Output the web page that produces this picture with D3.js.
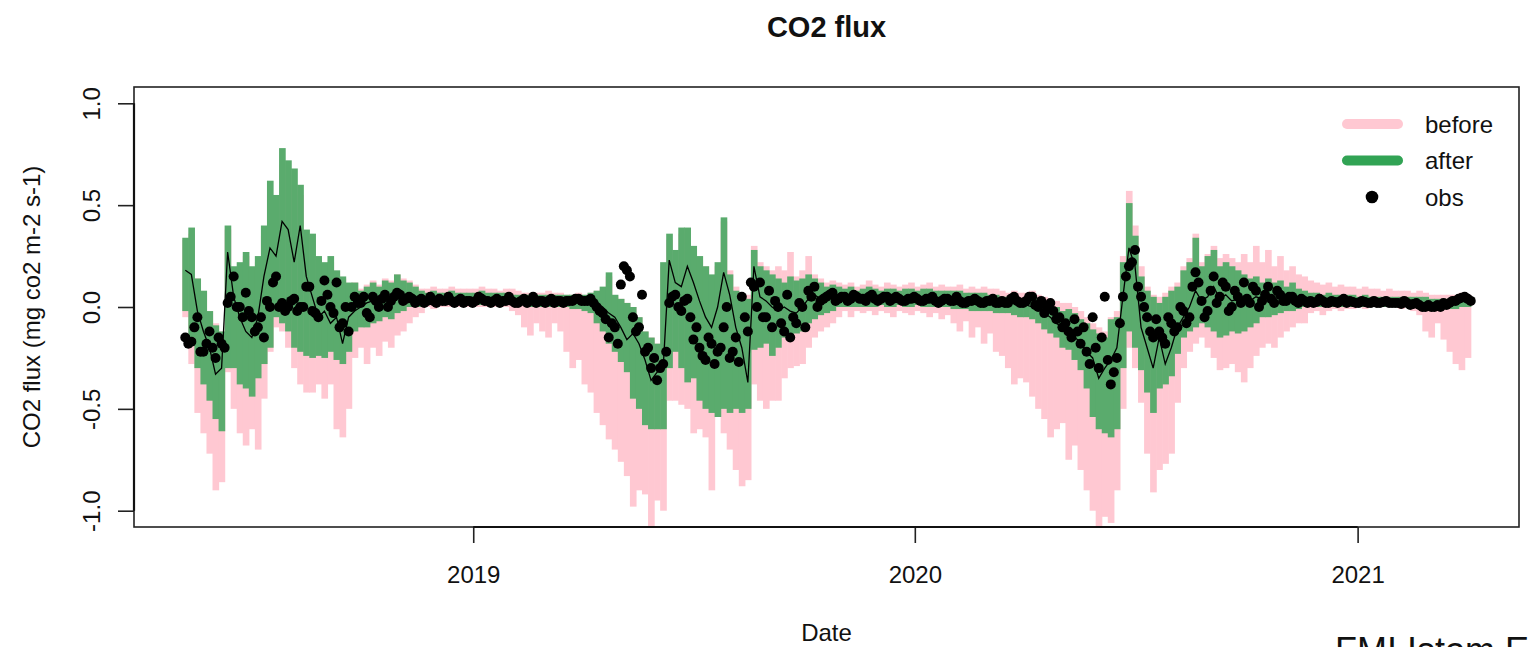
<html>
<head>
<style>
    body { margin: 0; background: #fff; }
    text { font-family: "Liberation Sans", Arial, sans-serif; fill: #111; }
</style>
</head>
<body>
<svg width="1529" height="647"></svg>
<script src="https://cdn.jsdelivr.net/npm/d3@7"></script>
<script>
    // one value every 5 days, starting 2018-05-08
    const startDate = new Date(Date.UTC(2018, 4, 8));
    const stepDays = 5;

    const beforeHi = [
        0.33,0.36,0.14,0.07,-0.02,-0.08,-0.12,0.38,0.18,0.2, 0.25,0.18,0.22,0.35,0.55,0.5,0.7,0.65,0.6,0.55, 0.35,0.33,0.22,0.2,0.22,0.16,0.14,0.11,0.12,0.09, 0.11,0.13,0.11,0.14,0.13,0.16,0.14,0.13,0.11,
        0.09,0.09,0.1,0.09,0.09,0.1,0.09,0.09,0.09,0.09,0.1,0.09,0.09,0.08,0.09,0.09,0.08,0.07,0.07,0.07,0.07,0.08,0.07,0.07,
        0.06,0.06,0.07,0.06,0.07,0.08,0.09,0.15,0.05,0.04,0.02,0.0,-0.05,-0.12,-0.15,-0.18,0.2,
        0.33,0.26,0.36,0.36,0.28,0.23,0.2,0.15,0.2,0.42,0.18,0.1,0.05,0.06,
        0.3,0.22,0.2,0.18,0.2,0.18,0.27,0.15,0.18,0.25,0.16,0.14,0.12,0.13,0.12,
        0.11,0.12,0.1,0.11,0.13,0.11,0.1,0.12,0.11,0.1,0.11,0.12,0.1,0.11,0.12,0.1,0.11,0.1,0.1,0.11,0.09,0.1,0.09,0.1,0.09,0.09,
        0.08,0.07,0.08,0.07,0.07,0.08,0.06,0.05,0.04,0.03,0.02,0.02,0.0,-0.02,-0.05,-0.08,-0.1,-0.12,-0.05,
        -0.02,0.25,0.57,0.4,0.2,0.1,0.06,0.05,0.07,0.1,0.12,0.2,0.24,0.36,0.22,0.26,0.3,0.24,0.26,0.24,0.22,0.26,0.22,0.3,0.22,0.28,0.2,0.25,0.18,0.2,0.16,0.15,
        0.13,0.12,0.11,0.12,0.1,0.11,0.1,0.1,0.09,0.1,0.09,0.09,0.08,0.09,0.08,0.08,0.08,0.07,0.08,
        0.07,0.06,0.06,0.06,0.06,0.06,0.07,0.06
    ];
    const beforeLo = [
        -0.05,-0.28,-0.52,-0.62,-0.72,-0.9,-0.86,-0.32,-0.5,-0.62, -0.68,-0.6,-0.7,-0.45,-0.22,-0.1,-0.12,-0.2,-0.3,-0.38, -0.42,-0.42,-0.38,-0.45,-0.38,-0.6,-0.64,-0.5,-0.25,-0.2, -0.28,-0.2,-0.24,-0.17,-0.2,-0.14,-0.12,-0.08,-0.05,
        -0.03,0.0,-0.01,0.0,0.0,0.0,0.0,0.0,0.0,0.0,0.0,0.0,0.0,0.0,0.0,-0.02,-0.04,-0.1,-0.14,-0.08,-0.12,-0.15,-0.08,-0.12,
        -0.22,-0.3,-0.26,-0.38,-0.42,-0.52,-0.58,-0.65,-0.7,-0.76,-0.83,-0.98,-0.9,-0.92,-1.08,-0.95,-1.0,
        -0.46,-0.46,-0.48,-0.5,-0.62,-0.6,-0.64,-0.9,-0.52,-0.62,-0.7,-0.8,-0.88,-0.85,
        -0.38,-0.46,-0.5,-0.46,-0.46,-0.35,-0.3,-0.29,-0.28,-0.2,-0.15,-0.12,-0.1,-0.08,-0.05,
        -0.02,-0.05,-0.02,-0.03,-0.02,-0.04,-0.02,-0.03,-0.05,-0.02,-0.03,-0.04,-0.02,-0.03,-0.05,-0.03,-0.06,-0.04,-0.08,-0.12,-0.07,-0.15,-0.1,-0.18,-0.13,-0.22,
        -0.24,-0.3,-0.38,-0.35,-0.37,-0.44,-0.5,-0.55,-0.64,-0.6,-0.57,-0.75,-0.68,-0.8,-0.9,-1.0,-1.08,-1.03,-1.06,
        -0.9,-0.5,-0.2,-0.3,-0.47,-0.72,-0.91,-0.8,-0.77,-0.72,-0.47,-0.3,-0.22,-0.18,-0.15,-0.2,-0.25,-0.31,-0.3,-0.28,-0.32,-0.37,-0.3,-0.24,-0.2,-0.18,-0.2,-0.15,-0.12,-0.1,-0.08,-0.08,
        -0.03,-0.02,-0.04,-0.02,-0.01,-0.02,-0.01,-0.01,0.0,-0.01,0.0,0.0,0.0,0.0,0.0,-0.01,0.0,-0.02,-0.04,
        -0.12,-0.15,-0.08,-0.16,-0.22,-0.28,-0.31,-0.25
    ];
    const afterHi = [
        0.34,0.39,0.14,0.08,-0.02,-0.09,-0.12,0.4,0.2,0.22, 0.27,0.2,0.25,0.4,0.62,0.55,0.78,0.72,0.68,0.6, 0.38,0.36,0.25,0.22,0.25,0.18,0.15,0.12,0.12,0.08, 0.1,0.12,0.1,0.13,0.12,0.16,0.13,0.12,0.1,
        0.08,0.07,0.08,0.07,0.07,0.08,0.07,0.07,0.07,0.07,0.08,0.07,0.07,0.07,0.07,0.06,0.06,0.06,0.06,0.06,0.06,0.06,0.06,0.06,
        0.06,0.06,0.06,0.06,0.07,0.08,0.1,0.17,0.06,0.04,0.02,0.0,-0.05,-0.12,-0.15,-0.18,0.22,
        0.36,0.28,0.39,0.39,0.3,0.25,0.2,0.16,0.22,0.44,0.16,0.08,0.04,0.04,
        0.28,0.2,0.18,0.16,0.14,0.12,0.15,0.13,0.14,0.16,0.14,0.12,0.1,0.11,0.1,
        0.09,0.1,0.08,0.09,0.1,0.09,0.08,0.09,0.09,0.08,0.09,0.09,0.08,0.09,0.09,0.08,0.08,0.08,0.08,0.08,0.07,0.07,0.07,0.07,0.06,0.06,
        0.05,0.05,0.05,0.04,0.04,0.05,0.04,0.02,0.0,0.0,-0.02,-0.01,-0.03,-0.06,-0.08,-0.11,-0.13,-0.15,-0.06,
        -0.05,0.22,0.51,0.35,0.15,0.08,0.05,0.02,0.05,0.08,0.1,0.18,0.22,0.34,0.2,0.25,0.28,0.2,0.22,0.2,0.18,0.16,0.14,0.15,0.12,0.14,0.12,0.13,0.1,0.12,0.09,0.08,
        0.07,0.07,0.06,0.07,0.06,0.06,0.06,0.06,0.05,0.06,0.05,0.05,0.05,0.05,0.05,0.05,0.05,0.05,0.05,
        0.05,0.04,0.04,0.04,0.04,0.05,0.05,0.05
    ];
    const afterLo = [
        -0.02,-0.15,-0.3,-0.38,-0.46,-0.55,-0.61,-0.3,-0.3,-0.38, -0.4,-0.44,-0.35,-0.28,-0.2,-0.05,-0.08,-0.12,-0.2,-0.22, -0.24,-0.25,-0.24,-0.25,-0.22,-0.26,-0.28,-0.22,-0.12,-0.1, -0.1,-0.08,-0.07,-0.05,-0.06,-0.03,-0.02,0.0,0.0,
        0.0,0.01,0.01,0.01,0.01,0.01,0.01,0.01,0.01,0.01,0.01,0.01,0.01,0.01,0.01,0.01,0.01,0.01,0.0,0.0,0.0,0.0,0.0,0.0,
        0.0,-0.01,-0.01,-0.02,-0.03,-0.08,-0.12,-0.18,-0.22,-0.27,-0.32,-0.45,-0.5,-0.58,-0.6,-0.6,-0.6,
        -0.3,-0.22,-0.3,-0.37,-0.35,-0.46,-0.5,-0.52,-0.54,-0.5,-0.52,-0.5,-0.52,-0.5,
        -0.21,-0.2,-0.18,-0.24,-0.2,-0.15,-0.14,-0.13,-0.12,-0.08,-0.06,-0.04,-0.03,-0.02,0.0,
        0.0,0.0,0.0,0.0,0.0,0.0,0.01,0.0,0.0,0.01,0.0,0.0,0.01,0.0,0.0,0.0,0.0,0.0,-0.01,-0.01,-0.01,-0.02,-0.02,-0.02,-0.02,-0.03,
        -0.03,-0.03,-0.04,-0.05,-0.05,-0.06,-0.08,-0.11,-0.13,-0.15,-0.2,-0.21,-0.26,-0.31,-0.4,-0.54,-0.6,-0.62,-0.64,
        -0.6,-0.3,-0.12,-0.2,-0.31,-0.42,-0.52,-0.4,-0.38,-0.34,-0.23,-0.15,-0.12,-0.1,-0.08,-0.1,-0.12,-0.15,-0.14,-0.12,-0.13,-0.12,-0.1,-0.08,-0.05,-0.05,-0.04,-0.03,-0.02,-0.02,-0.01,0.0,
        0.0,0.0,0.0,0.0,0.0,0.0,0.0,0.0,0.0,0.0,0.0,0.0,0.0,0.0,0.0,0.0,0.0,0.0,0.0,
        -0.01,-0.02,-0.01,-0.01,-0.01,-0.01,0.0,0.0
    ];
    const meanLine = [
        0.18,0.16,-0.02,-0.12,-0.2,-0.33,-0.3,0.27,0.05,-0.05, -0.12,-0.15,-0.05,0.15,0.29,0.25,0.42,0.38,0.22,0.4, 0.15,0.05,-0.05,-0.02,-0.08,-0.05,-0.18,-0.05,-0.02,0.0, 0.02,0.03,0.02,0.04,0.03,0.05,0.05,0.06,0.05,
        0.04,0.035,0.035,0.035,0.03,0.03,0.03,0.03,0.03,0.03,0.03,0.03,0.03,0.035,0.03,0.03,0.03,0.03,0.03,0.03,0.03,0.03,0.03,0.03,
        0.03,0.03,0.03,0.03,0.03,0.02,0.0,-0.03,-0.05,-0.1,-0.16,-0.13,-0.18,-0.26,-0.36,-0.32,-0.3,
        0.23,0.12,0.1,0.2,0.12,0.03,-0.05,-0.1,0.0,0.17,0.06,-0.1,-0.2,-0.37,
        0.2,0.05,0.03,0.0,-0.02,0.0,-0.02,-0.03,0.0,0.04,0.06,0.04,0.03,0.05,0.05,
        0.05,0.05,0.045,0.045,0.045,0.045,0.04,0.04,0.04,0.04,0.04,0.04,0.04,0.035,0.035,0.035,0.035,0.03,0.03,0.03,0.03,0.03,0.025,0.025,0.025,0.02,
        0.02,0.02,0.02,0.01,0.01,0.0,-0.01,-0.03,-0.05,-0.08,-0.1,-0.13,-0.15,-0.17,-0.22,-0.25,-0.35,-0.3,-0.26,
        -0.2,0.05,0.29,0.2,-0.1,-0.2,-0.3,-0.15,-0.28,-0.2,-0.1,-0.05,0.0,0.08,0.03,0.05,0.1,0.04,0.06,0.03,0.04,0.05,0.03,0.05,0.04,0.05,0.04,0.05,0.04,0.05,0.04,0.03,
        0.03,0.03,0.025,0.025,0.025,0.025,0.025,0.02,0.02,0.02,0.02,0.02,0.02,0.02,0.02,0.02,0.015,0.015,0.015,
        0.01,0.0,0.01,0.01,0.01,0.02,0.03,0.03
    ];
    const obs = [
        -0.15,-0.17,-0.05,-0.22,-0.12,-0.25,-0.18,0.02,0.15,0.0, 0.07,-0.05,-0.1,-0.15,0.0,0.15,0.02,0.0,0.04,0.0, 0.1,-0.02,-0.05,0.13,0.0,0.12,-0.08,-0.12,0.05,0.02, -0.03,0.05,0.0,0.06,0.03,0.07,0.03,0.05,0.02,
        0.04,0.03,0.03,0.04,0.03,0.03,0.03,0.02,0.03,0.03,0.04,0.03,0.03,0.02,0.03,0.03,0.02,0.04,0.03,0.02,0.03,0.03,0.02,0.03,
        0.03,0.03,0.04,0.03,0.04,0.0,-0.03,-0.15,-0.1,0.11,0.18,-0.05,-0.1,-0.22,-0.3,-0.36,-0.28,
        0.02,0.06,-0.02,0.04,-0.16,-0.2,-0.26,-0.18,-0.22,-0.1,-0.25,-0.15,0.05,-0.12,
        0.1,0.12,-0.05,-0.1,0.0,-0.12,-0.15,-0.08,0.0,0.08,0.1,0.03,0.05,0.07,0.04,
        0.05,0.04,0.05,0.04,0.05,0.04,0.04,0.05,0.04,0.04,0.03,0.04,0.04,0.03,0.04,0.03,0.03,0.04,0.03,0.03,0.02,0.03,0.03,0.02,0.03,0.02,
        0.03,0.02,0.05,0.02,0.03,0.05,0.0,-0.03,0.02,-0.06,-0.1,-0.12,-0.06,-0.18,-0.22,-0.05,-0.3,0.05,-0.38,
        -0.25,0.05,0.2,0.28,0.05,-0.05,-0.15,-0.12,-0.18,-0.08,-0.1,-0.02,-0.05,0.17,0.03,-0.02,0.15,0.05,0.1,0.0,0.05,0.12,0.02,0.08,0.03,0.1,0.02,0.06,0.03,0.05,0.02,0.03,
        0.03,0.025,0.03,0.02,0.025,0.03,0.02,0.025,0.02,0.025,0.02,0.02,0.025,0.02,0.02,0.015,0.02,0.015,0.01,
        0.0,0.0,0.01,0.02,0.02,0.03,0.045,0.04
    ];
    // second daily obs inside each 5-day step (half a step later)
    const obsMid = [
        -0.18,-0.1,-0.22,-0.18,-0.2,-0.15,-0.2, 0.05,0.0,-0.05,-0.02,-0.12,-0.05,0.03,0.12,0.0,-0.02,0.03,-0.02,0.0,0.1,-0.03,0.03,0.06,-0.03,-0.1,0.0,0.0,0.02,0.05,-0.05,0.03,0.04,0.0,0.05,0.06,0.04,0.04,0.03,
        0.02,0.05,0.02,0.03,0.05,0.02,0.04,0.03,0.02,0.05,0.03,0.02,0.04,0.03,0.05,0.02,0.03,0.02,0.05,0.03,0.02,0.04,0.03,0.02,
        0.03,0.04,0.03,0.03,0.02,-0.02,-0.06, -0.08,-0.18,0.2,0.15,-0.12,0.06,-0.2,-0.25,-0.3,-0.22,
        0.05,0.0,0.03,-0.05,-0.1,-0.24,-0.15,-0.28,-0.2,0.0,-0.22,-0.27,-0.05,0.12,
        0.0,-0.05,0.08,0.03,-0.08,0.06,-0.05,0.02,-0.1,0.05,0.0,0.04,0.06,0.03,0.05,
        0.03,0.06,0.04,0.03,0.06,0.03,0.05,0.03,0.05,0.03,0.04,0.05,0.03,0.04,0.05,0.02,0.04,0.03,0.05,0.02,0.03,0.04,0.02,0.03,0.04,0.02,
        0.02,0.04,0.03,0.02,0.05,0.01,0.03,0.0,-0.02,-0.05,-0.08,
        -0.15,-0.12,-0.1,-0.28,-0.2,-0.15,-0.26,-0.32,-0.08,0.15,0.22,0.1,
        0.0,-0.12,-0.06,-0.15,-0.05,-0.12,0.0,-0.08,0.1,0.12,-0.05,0.08,0.02,
        0.12,-0.02,0.08,0.02,0.04,0.1,0.0,0.06,0.04,0.08,0.03,0.05,0.03,0.04,0.02,
        0.02,0.04,0.02,0.03,0.02,0.04,0.03,0.02,0.03,0.02,0.03,0.02,0.03,0.02,0.02,0.03,0.01,0.02,0.0,
        0.01,0.0,0.0,0.01,0.03,0.04,0.05,0.03
    ];

    const yTicks = [-1, -0.5, 0, 0.5, 1];
    const xTickYears = [2019, 2020, 2021];
    const legendItems = ['before', 'after', 'obs'];

    const pinkCol = '#ffc8d2';
    const greenCol = '#5aab6d';
    const greenLegend = '#31a354';

    const dates = beforeHi.map((d, i) => d3.utcDay.offset(startDate, i * stepDays));

    const svg = d3.select('svg');
    const pLeft = 134, pRight = 1519, pTop = 87, pBottom = 527;

    // R style axis range: data range stretched by 4% each side
    const t0 = +dates[0], t1 = +dates[dates.length - 1];
    const pad = (t1 - t0) * 0.04;
    const x = d3.scaleUtc().domain([new Date(t0 - pad), new Date(t1 + pad)]).range([pLeft, pRight]);
    const y = d3.scaleLinear().domain([-1.08, 1.08]).range([pBottom, pTop]);

    const stepPx = x(d3.utcDay.offset(startDate, stepDays)) - x(startDate);

    svg.append('clipPath').attr('id', 'plotclip')
        .append('rect').attr('x', pLeft).attr('y', pTop).attr('width', pRight - pLeft).attr('height', pBottom - pTop);

    const plot = svg.append('g').attr('clip-path', 'url(#plotclip)');

    function bars (hi, lo, colour) {
        plot.append('g').selectAll('rect')
            .data(dates)
            .join('rect')
            .attr('x', (d) => x(d) - stepPx / 2)
            .attr('width', stepPx + 0.6)
            .attr('y', (d, i) => y(Math.max(hi[i], lo[i])))
            .attr('height', (d, i) => Math.abs(y(lo[i]) - y(hi[i])))
            .attr('fill', colour);
    }

    bars(beforeHi, beforeLo, pinkCol);
    bars(afterHi, afterLo, greenCol);

    plot.append('path')
        .datum(dates)
        .attr('fill', 'none')
        .attr('stroke', '#000')
        .attr('stroke-width', 1.3)
        .attr('d', d3.line().x((d) => x(d)).y((d, i) => y(meanLine[i])));

    const pts = [];
    dates.forEach((d, i) => {
        pts.push({t: d, v: obs[i]});
        pts.push({t: new Date(+d + stepDays * 43200000), v: obsMid[i]});
    });
    plot.append('g').selectAll('circle')
        .data(pts)
        .join('circle')
        .attr('cx', (d) => x(d.t))
        .attr('cy', (d) => y(d.v))
        .attr('r', 5)
        .attr('fill', '#000');

    // box
    svg.append('rect')
        .attr('x', pLeft).attr('y', pTop)
        .attr('width', pRight - pLeft).attr('height', pBottom - pTop)
        .attr('fill', 'none').attr('stroke', '#222').attr('stroke-width', 1.6);

    // x axis
    const xTicks = xTickYears.map((yr) => new Date(Date.UTC(yr, 0, 1)));
    const gx = svg.append('g').attr('transform', `translate(0,${pBottom})`)
        .call(d3.axisBottom(x).tickValues(xTicks).tickFormat(d3.utcFormat('%Y')).tickSize(16).tickSizeOuter(0).tickPadding(23));
    gx.select('.domain').remove();
    gx.selectAll('line').attr('stroke', '#222').attr('stroke-width', 1.6);
    gx.selectAll('text').attr('font-size', 24).attr('fill', '#111').attr('font-family', '"Liberation Sans", Arial, sans-serif');
    svg.append('line')
        .attr('x1', x(xTicks[0])).attr('x2', x(xTicks[xTicks.length - 1]))
        .attr('y1', pBottom).attr('y2', pBottom)
        .attr('stroke', '#111').attr('stroke-width', 2.2);

    // y axis
    const gy = svg.append('g').attr('transform', `translate(${pLeft},0)`)
        .call(d3.axisLeft(y).tickValues(yTicks).tickFormat((d) => d.toFixed(1)).tickSize(16).tickSizeOuter(0));
    gy.select('.domain').remove();
    gy.selectAll('line').attr('stroke', '#222').attr('stroke-width', 1.6);
    gy.selectAll('text')
        .attr('x', null).attr('dy', null)
        .attr('transform', `translate(${100 - pLeft},0) rotate(-90)`)
        .attr('text-anchor', 'middle')
        .attr('font-size', 24).attr('fill', '#111')
        .attr('font-family', '"Liberation Sans", Arial, sans-serif');
    svg.append('line')
        .attr('x1', pLeft).attr('x2', pLeft)
        .attr('y1', y(yTicks[0])).attr('y2', y(yTicks[yTicks.length - 1]))
        .attr('stroke', '#111').attr('stroke-width', 2.2);

    // titles
    svg.append('text').attr('x', (pLeft + pRight) / 2).attr('y', 37)
        .attr('text-anchor', 'middle').attr('font-size', 29).attr('font-weight', 'bold')
        .text('CO2 flux');
    svg.append('text').attr('x', (pLeft + pRight) / 2).attr('y', 641)
        .attr('text-anchor', 'middle').attr('font-size', 24)
        .text('Date');
    svg.append('text')
        .attr('transform', `translate(40,${(pTop + pBottom) / 2}) rotate(-90)`)
        .attr('text-anchor', 'middle').attr('font-size', 24)
        .text('CO2 flux (mg co2 m-2 s-1)');

    // legend
    const lg = svg.append('g');
    legendItems.forEach((name, i) => {
        const cy = 124 + i * 36.5;
        if (name === 'obs') {
            lg.append('circle').attr('cx', 1372).attr('cy', cy).attr('r', 6.3).attr('fill', '#000');
        } else {
            lg.append('line').attr('x1', 1347).attr('x2', 1398).attr('y1', cy).attr('y2', cy)
                .attr('stroke', name === 'before' ? pinkCol : greenLegend)
                .attr('stroke-width', 10).attr('stroke-linecap', 'round');
        }
        lg.append('text').attr('x', 1425).attr('y', cy + 8.5).attr('font-size', 24).text(name);
    });

    // caption cut off by the bottom edge, as in the original
    svg.append('text').attr('x', 1335).attr('y', 663).attr('font-size', 36).attr('fill', '#000').text('FMI Istom E');
</script>
</body>
</html>
